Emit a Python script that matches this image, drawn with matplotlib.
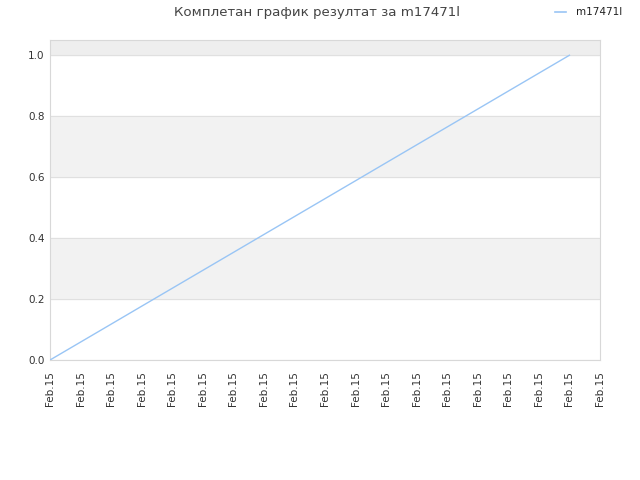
import matplotlib
matplotlib.use("Agg")
import matplotlib.pyplot as plt

title = "Комплетан график резултат за m17471l"
series_name = "m17471l"
x_labels = ["Feb.15"] * 19
y_values = [0.0, 0.0588, 0.1176, 0.1765, 0.2353, 0.2941, 0.3529, 0.4118, 0.4706,
            0.5294, 0.5882, 0.6471, 0.7059, 0.7647, 0.8235, 0.8824, 0.9412, 1.0]
y_ticks = [0.0, 0.2, 0.4, 0.6, 0.8, 1.0]

fig = plt.figure(figsize=(6.4, 4.8), dpi=100)
ax = fig.add_axes([50 / 640, 120 / 480, 550 / 640, 320 / 480])

# alternating bands
ax.axhspan(1.0, 1.05, color="#eeeeee", zorder=0)
ax.axhspan(0.6, 0.8, color="#f2f2f2", zorder=0)
ax.axhspan(0.2, 0.4, color="#f2f2f2", zorder=0)
for y in y_ticks:
    ax.axhline(y, color="#e0e0e0", lw=0.8, zorder=1)

ax.plot(range(len(y_values)), y_values, color="#99c5f5", lw=1.0, zorder=3)

ax.set_xlim(0, len(x_labels) - 1)
ax.set_ylim(0, 1.05)
ax.set_xticks(range(len(x_labels)))
ax.set_xticklabels(x_labels, rotation=90, fontsize=7.5, color="#333333")
ax.set_yticks(y_ticks)
ax.set_yticklabels([f"{v:.1f}" for v in y_ticks], fontsize=7.5, color="#333333")
ax.tick_params(axis="x", length=0, pad=8)
ax.tick_params(axis="y", length=0, pad=4)
for s in ax.spines.values():
    s.set_color("#d8d8d8")

fig.text(0.495, 0.973, title, ha="center", va="center", fontsize=9.6, color="#444444")
fig.lines.append(plt.Line2D([555 / 640, 566 / 640], [0.974, 0.974], transform=fig.transFigure,
                            color="#99c5f5", lw=1.2))
fig.text(576 / 640, 0.975, series_name, ha="left", va="center", fontsize=7.5, color="#222222")

fig.savefig("out.png", dpi=100)
